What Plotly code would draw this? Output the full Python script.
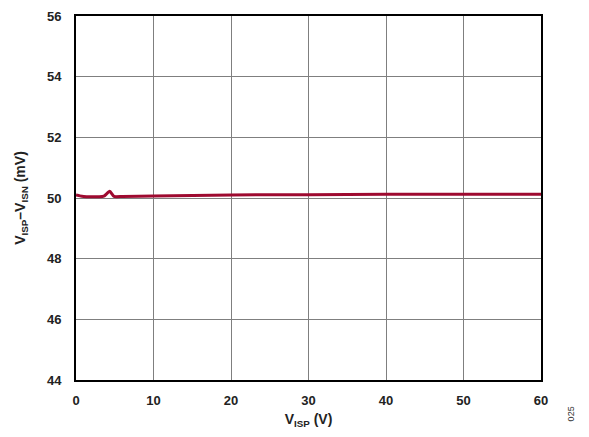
import plotly.graph_objects as go

x_v = [0, 0.5, 1, 2, 3, 3.6, 4.35, 4.9, 6, 10, 20, 30, 40, 50, 60]
y_mv = [50.10, 50.07, 50.05, 50.04, 50.04, 50.06, 50.22, 50.05, 50.05, 50.07, 50.10, 50.11, 50.12, 50.12, 50.12]

x_ticks = [0, 10, 20, 30, 40, 50, 60]
y_ticks = [44, 46, 48, 50, 52, 54, 56]

font = "Liberation Sans, Arial, sans-serif"

fig = go.Figure()
fig.add_trace(go.Scatter(x=x_v, y=y_mv, mode="lines",
                         line=dict(color="#9E0A30", width=3, shape="spline", smoothing=0.5),
                         showlegend=False))

axis_common = dict(showgrid=True, gridcolor="#7f7f7f", gridwidth=1,
                   showline=True, linecolor="black", linewidth=2, mirror=True,
                   zeroline=False, ticks="",
                   tickfont=dict(family=font, size=13, color="#222"))

fig.update_xaxes(range=[0, 60], tickvals=x_ticks, ticktext=[f"<b>{t}</b>" for t in x_ticks],
                 ticklabelstandoff=7, **axis_common,
                 title=dict(text="<b>V<sub>ISP</sub> (V)</b>", font=dict(family=font, size=14, color="#222"), standoff=8))
fig.update_yaxes(range=[44, 56], tickvals=y_ticks, ticktext=[f"<b>{t}</b>" for t in y_ticks],
                 ticklabelstandoff=10, **axis_common,
                 title=dict(text="<b>V<sub>ISP</sub>–V<sub>ISN</sub> (mV)</b>", font=dict(family=font, size=14, color="#222"), standoff=18))

fig.add_annotation(text="025", xref="paper", yref="paper", x=1.08, y=-0.12,
                   textangle=-90, showarrow=False,
                   font=dict(family=font, size=9, color="#333"))

fig.update_layout(width=589, height=437, margin=dict(l=76, r=48, t=9, b=57),
                  plot_bgcolor="white", paper_bgcolor="white")

fig.write_html("out.html")
